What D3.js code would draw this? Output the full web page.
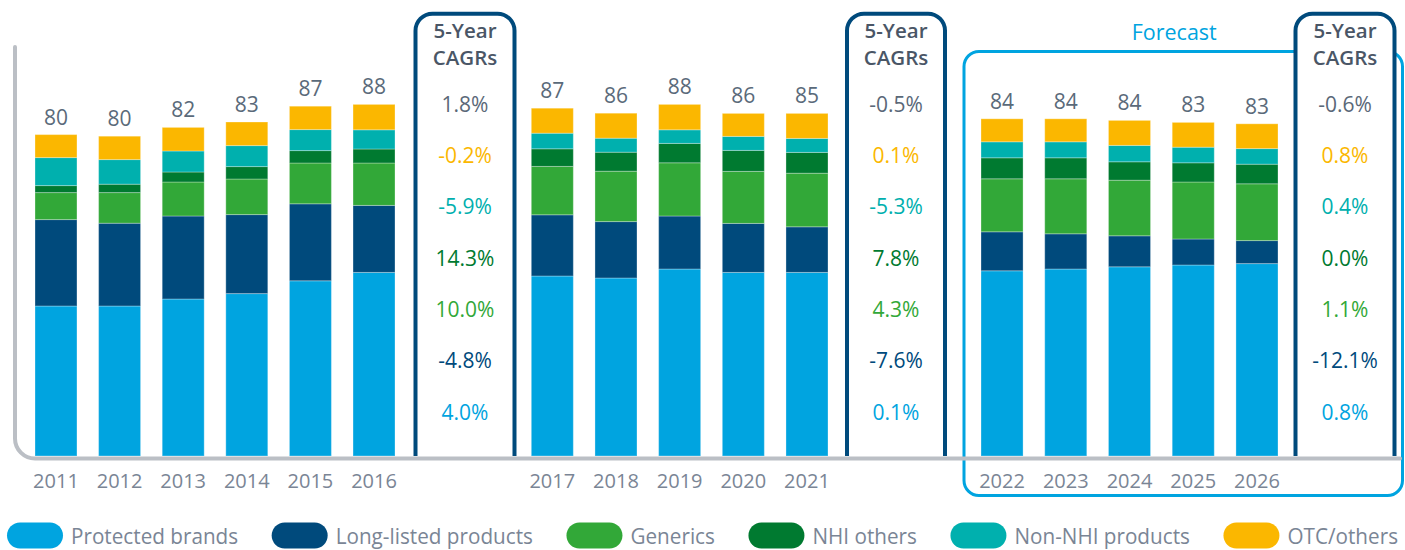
<!DOCTYPE html>
<html>
<head>
<meta charset="utf-8">
<script src="https://cdn.jsdelivr.net/npm/d3@7"></script>
<style>
  html, body { margin: 0; padding: 0; background: #fff; }
  svg { display: block; font-family: "Open Sans", sans-serif; }
</style>
</head>
<body>
<svg id="chart" width="1405" height="550"></svg>
<script>
// Data
const years1 = ["2011", "2012", "2013", "2014", "2015", "2016"];
const years2 = ["2017", "2018", "2019", "2020", "2021"];
const years3 = ["2022", "2023", "2024", "2025", "2026"];
const years = [...years1, ...years2, ...years3];

const seriesNames = ["Protected brands", "Long-listed products", "Generics", "NHI others", "Non-NHI products", "OTC/others"];
const seriesColors = ["#00A4E0", "#004A7C", "#32A838", "#007A30", "#00B0AE", "#FBB700"];

const protectedBrands = [37.5, 37.5, 39.25, 40.6, 43.8, 45.9, 45.0, 44.5, 46.75, 45.9, 45.9, 46.3, 46.75, 47.3, 47.75, 48.1];
const longListed      = [21.6, 20.7, 20.75, 19.75, 19.25, 16.75, 15.3, 14.1, 13.25, 12.25, 11.4, 9.75, 8.8, 7.75, 6.5, 5.75];
const generics        = [6.75, 7.65, 8.5, 8.9, 10.2, 10.6, 12.1, 12.6, 13.3, 13.0, 13.4, 13.25, 13.75, 13.9, 14.25, 14.2];
const nhiOthers       = [1.75, 2.1, 2.5, 3.1, 3.1, 3.5, 4.4, 4.75, 4.85, 5.25, 5.2, 5.25, 5.25, 4.6, 4.8, 4.9];
const nonNhi          = [7.0, 6.15, 5.25, 5.25, 5.25, 4.8, 3.9, 3.5, 3.4, 3.5, 3.5, 4.0, 4.0, 4.1, 3.9, 3.9];
const otcOthers       = [5.75, 5.85, 5.9, 5.9, 5.85, 6.35, 6.25, 6.25, 6.35, 5.75, 6.25, 5.75, 5.75, 6.25, 6.2, 6.2];
const totals          = [80, 80, 82, 83, 87, 88, 87, 86, 88, 86, 85, 84, 84, 84, 83, 83];

// CAGR rows: total, OTC, Non-NHI, NHI others, Generics, Long-listed, Protected
const cagrRows = ["total", "otc", "nonNhi", "nhi", "generics", "longListed", "protected"];
const cagrColors = ["#5A6878", "#FBB700", "#00AFAE", "#007A30", "#32A838", "#004A7C", "#00A4E0"];
const cagr1 = ["1.8%", "-0.2%", "-5.9%", "14.3%", "10.0%", "-4.8%", "4.0%"];
const cagr2 = ["-0.5%", "0.1%", "-5.3%", "7.8%", "4.3%", "-7.6%", "0.1%"];
const cagr3 = ["-0.6%", "0.8%", "0.4%", "0.0%", "1.1%", "-12.1%", "0.8%"];

// Setup
const svg = d3.select("#chart");
const baseY = 456;

const y = d3.scaleLinear().domain([0, 100]).range([baseY, 56]);

// one band scale per group of years
const groups = [
    {years: years1, range: [35, 395], box: [415.5, 514.5], cagr: cagr1},
    {years: years2, range: [531.3, 828], box: [847, 945], cagr: cagr2},
    {years: years3, range: [981, 1278], box: [1295.5, 1394.5], cagr: cagr3}
];
groups.forEach(g => {
    g.x = d3.scaleBand().domain(g.years).range(g.range).paddingInner(0.34).paddingOuter(0);
});
const xOf = yr => groups.find(g => g.years.includes(yr)).x;

// Stack
const table = years.map((yr, i) => ({
    year: yr,
    "Protected brands": protectedBrands[i],
    "Long-listed products": longListed[i],
    "Generics": generics[i],
    "NHI others": nhiOthers[i],
    "Non-NHI products": nonNhi[i],
    "OTC/others": otcOthers[i],
    total: totals[i]
}));
const stacked = d3.stack().keys(seriesNames)(table);
const color = d3.scaleOrdinal().domain(seriesNames).range(seriesColors);

// Forecast frame
const fb = {x0: 964, y0: 51.5, x1: 1402.5, y1: 495.5, r: 15};
svg.append("rect")
    .attr("x", fb.x0).attr("y", fb.y0)
    .attr("width", fb.x1 - fb.x0).attr("height", fb.y1 - fb.y0)
    .attr("rx", fb.r)
    .attr("fill", "none")
    .attr("stroke", "#00A4E0")
    .attr("stroke-width", 3);

svg.append("text")
    .attr("x", (fb.x0 + fb.x1) / 2 - 9)
    .attr("y", 40)
    .attr("text-anchor", "middle")
    .attr("fill", "#00A4E0")
    .style("font-size", "21.5px")
    .style("font-weight", 500)
    .text("Forecast");

// Bars
svg.append("g")
    .selectAll("g")
    .data(stacked)
    .enter().append("g")
    .attr("fill", d => color(d.key))
    .selectAll("rect")
    .data(d => d)
    .enter().append("rect")
    .attr("x", d => xOf(d.data.year)(d.data.year))
    .attr("width", d => xOf(d.data.year).bandwidth())
    .attr("y", d => y(d[1]))
    .attr("height", d => y(d[0]) - y(d[1]))
    .attr("stroke", "#ffffff")
    .attr("stroke-opacity", 0.3)
    .attr("stroke-width", 1);

// Total labels
const topLayer = stacked[stacked.length - 1];
svg.append("g")
    .selectAll("text")
    .data(topLayer)
    .enter().append("text")
    .attr("x", d => xOf(d.data.year)(d.data.year) + xOf(d.data.year).bandwidth() / 2)
    .attr("y", d => y(d[1]) - 10)
    .attr("text-anchor", "middle")
    .attr("fill", "#5A6A7A")
    .style("font-size", "21px")
    .text(d => d.data.total);

// Year labels
svg.append("g")
    .selectAll("text")
    .data(years)
    .enter().append("text")
    .attr("x", d => xOf(d)(d) + xOf(d).bandwidth() / 2)
    .attr("y", 488)
    .attr("text-anchor", "middle")
    .attr("fill", "#7A8595")
    .style("font-size", "20px")
    .text(d => d);

// CAGR boxes
const rowY = d3.scalePoint().domain(cagrRows).range([111.5, 419.5]);
const cagrColor = d3.scaleOrdinal().domain(cagrRows).range(cagrColors);

groups.forEach(g => {
    const [l, r] = g.box;
    const t = 13.7, rad = 17;
    const p = d3.path();
    p.moveTo(l, baseY);
    p.lineTo(l, t + rad);
    p.arcTo(l, t, l + rad, t, rad);
    p.lineTo(r - rad, t);
    p.arcTo(r, t, r, t + rad, rad);
    p.lineTo(r, baseY);

    const box = svg.append("g");
    box.append("rect")
        .attr("x", l).attr("y", t)
        .attr("width", r - l).attr("height", baseY - t)
        .attr("fill", "#fff");
    box.append("path")
        .attr("d", p.toString())
        .attr("fill", "none")
        .attr("stroke", "#004A7C")
        .attr("stroke-width", 4);

    const cx = (l + r) / 2;
    box.append("text")
        .attr("x", cx).attr("y", 37.5)
        .attr("text-anchor", "middle")
        .attr("fill", "#4A5666")
        .style("font-size", "20.5px").style("font-weight", 600)
        .text("5-Year");
    box.append("text")
        .attr("x", cx).attr("y", 65)
        .attr("text-anchor", "middle")
        .attr("fill", "#4A5666")
        .style("font-size", "20.5px").style("font-weight", 600)
        .text("CAGRs");

    box.selectAll("text.cagr")
        .data(cagrRows)
        .enter().append("text")
        .attr("class", "cagr")
        .attr("x", cx)
        .attr("y", d => rowY(d))
        .attr("text-anchor", "middle")
        .attr("fill", d => cagrColor(d))
        .style("font-size", "21px")
        .text((d, i) => g.cagr[i]);
});

// Gray axis frame
const ax = d3.path();
ax.moveTo(15, 47);
ax.lineTo(15, 438.5);
ax.arcTo(15, 458.5, 35, 458.5, 20);
ax.lineTo(1400, 458.5);
svg.append("path")
    .attr("d", ax.toString())
    .attr("fill", "none")
    .attr("stroke", "#BBBFC5")
    .attr("stroke-width", 4)
    .attr("stroke-linecap", "round");

// Legend (text squeezed horizontally like the original condensed face)
const squeeze = 0.92;
const legend = svg.append("g");
const items = legend.selectAll("g")
    .data(seriesNames)
    .enter().append("g");

items.append("rect")
    .attr("width", 56).attr("height", 26)
    .attr("y", 522.5)
    .attr("rx", 13)
    .attr("fill", d => color(d));

items.append("text")
    .attr("transform", `translate(64,543.5) scale(${squeeze},1)`)
    .attr("fill", "#7A8595")
    .style("font-size", "22.5px")
    .text(d => d);

// justify legend items between 7 and 1398
const widths = [];
items.each(function() { widths.push(64 + d3.select(this).select("text").node().getComputedTextLength() * squeeze); });
const gap = (1398 - 7 - d3.sum(widths)) / (widths.length - 1);
let xPos = 7;
items.attr("transform", (d, i) => {
    const tr = `translate(${xPos},0)`;
    xPos += widths[i] + gap;
    return tr;
});
</script>
</body>
</html>
